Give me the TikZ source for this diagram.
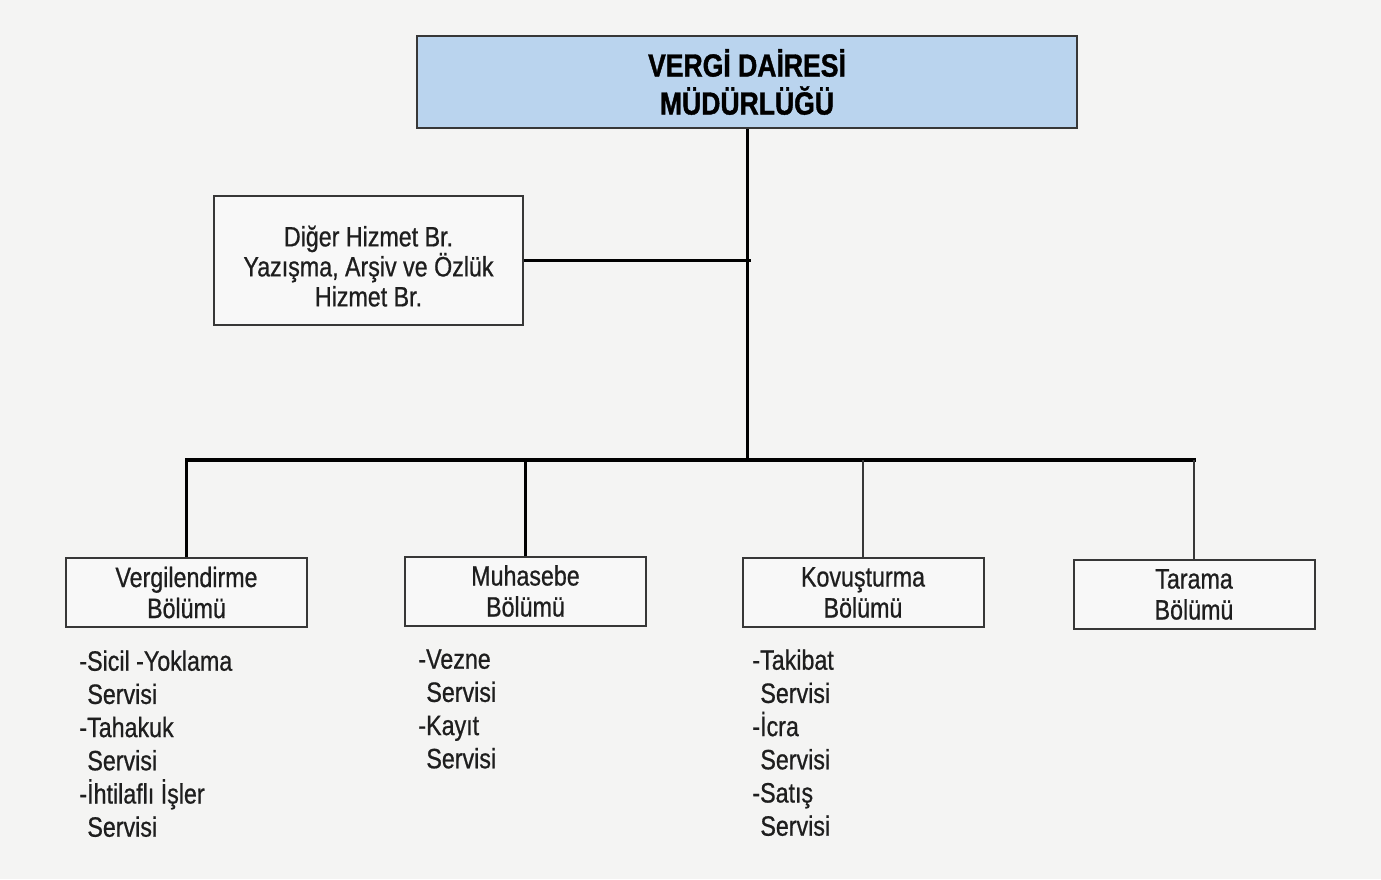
\documentclass[tikz,border=0pt]{standalone}
\usepackage{fontspec}
\setmainfont{Liberation Sans}[FakeStretch=0.83, FakeBold=0.7,
  BoldFeatures={FakeStretch=0.83, FakeBold=1.2}]
\usetikzlibrary{positioning}
\definecolor{headblue}{RGB}{186,212,238}
\definecolor{edgegray}{RGB}{55,55,55}
\definecolor{bggray}{RGB}{244,244,243}
\definecolor{inkgray}{RGB}{30,30,30}
\tikzset{
  unitbox/.style={draw=edgegray, line width=1pt, fill=white!40!bggray,
    minimum width=120.5pt, minimum height=34.5pt, inner sep=0pt,
    align=center, text=inkgray, font=\fontsize{14}{15.5}\selectfont},
  headbox/.style={unitbox, fill=headblue, minimum width=330pt,
    minimum height=46pt, text=black, font=\bfseries\fontsize{16}{19}\selectfont},
  servlist/.style={anchor=north west, align=left, inner sep=0pt,
    text=inkgray, font=\fontsize{14}{16.6}\selectfont},
  trunk/.style={line width=1.5pt},
  bus/.style={line width=2.2pt},
  branch/.style={line width=0.8pt, draw=edgegray}
}
\begin{document}
\begin{tikzpicture}[x=0.5pt,y=-0.5pt]
	%% page
	\fill[bggray] (0,0) rectangle (1381,879);
	\useasboundingbox (0,0) rectangle (1381,879);
	%% boxes
	\node[headbox] (mudurluk) at (747,82) {VERGİ DAİRESİ\\MÜDÜRLÜĞÜ};
	\node[unitbox, minimum width=154.5pt, minimum height=64.5pt,
	      font=\fontsize{14}{15}\selectfont] (diger) at (368.5,260.5)
	      {\rule{0pt}{16pt}Diğer Hizmet Br.\\Yazışma, Arşiv ve Özlük\\Hizmet Br.};
	\node[unitbox] (vergi) at (186.5,592.5) {Vergilendirme\\Bölümü};
	\node[unitbox] (muhasebe) at (525.5,591) {Muhasebe\\Bölümü};
	\node[unitbox] (kovus) at (863,592.5) {Kovuşturma\\Bölümü};
	\node[unitbox] (tarama) at (1194,594.5) {Tarama\\Bölümü};
	%% services
	\node[servlist] (vergiserv) at (79,650)
	      {-Sicil -Yoklama\\\hspace{4pt}Servisi\\-Tahakuk\\\hspace{4pt}Servisi\\-İhtilaflı İşler\\\hspace{4pt}Servisi};
	\node[servlist] (muhserv) at (418,649)
	      {-Vezne\\\hspace{4pt}Servisi\\-Kayıt\\\hspace{4pt}Servisi};
	\node[servlist] (kovserv) at (752,649)
	      {-Takibat\\\hspace{4pt}Servisi\\-İcra\\\hspace{4pt}Servisi\\-Satış\\\hspace{4pt}Servisi};
	%% connectors
	\coordinate (hub) at (747,460);
	\draw[trunk] (mudurluk.south) -- (hub);
	\draw[trunk] (diger.east) -- ([xshift=2pt]diger.east -| mudurluk.south);
	\draw[bus] ([xshift=-0.75pt]vergi.north |- hub) -- ([xshift=1pt]tarama.north |- hub);
	\draw[trunk] (vergi.north |- hub) -- (vergi.north);
	\draw[line width=1.2pt] (muhasebe.north |- hub) -- (muhasebe.north);
	\draw[branch] (kovus.north |- hub) -- (kovus.north);
	\draw[branch] (tarama.north |- hub) -- (tarama.north);
\end{tikzpicture}
\end{document}
